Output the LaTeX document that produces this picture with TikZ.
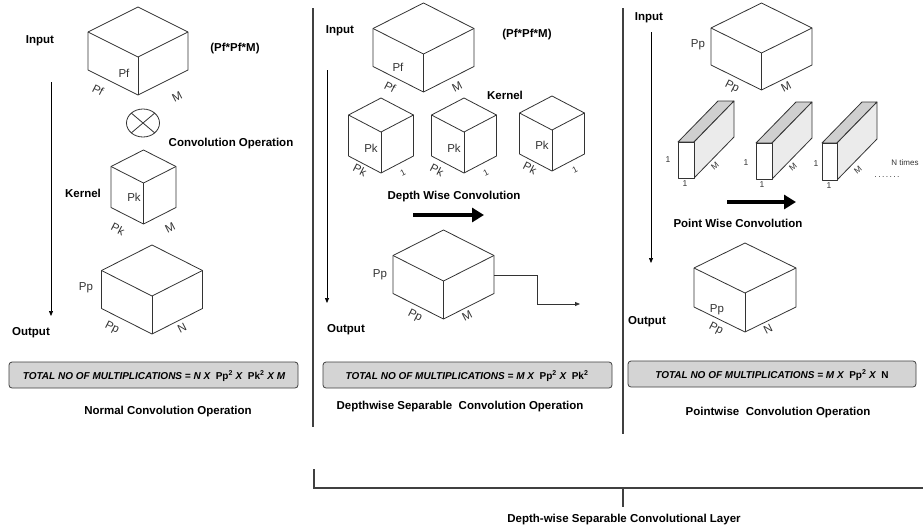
\documentclass[tikz,border=0pt]{standalone}
\usepackage{fontspec}
\setmainfont{Liberation Sans}
\usetikzlibrary{arrows.meta}
\definecolor{linegray}{HTML}{333333}
\definecolor{sepgray}{HTML}{404040}
\definecolor{boxfill}{HTML}{D4D4D4}
\definecolor{slabtopc}{HTML}{CFCFCF}
\definecolor{slabsidec}{HTML}{EBEBEB}
\newcommand\isocube[5]{%
  \draw[cubeline] (#1,#2) -- ({#1-#3},{#2+#4}) -- ({#1-#3},{#2+#4+#5}) -- (#1,{#2+2*#4+#5}) -- ({#1+#3},{#2+#4+#5}) -- ({#1+#3},{#2+#4}) -- cycle;
  \draw[cubeline] ({#1-#3},{#2+#4}) -- (#1,{#2+2*#4}) -- ({#1+#3},{#2+#4});
  \draw[cubeline] (#1,{#2+2*#4}) -- (#1,{#2+2*#4+#5});
}
\newcommand\slabshape[4]{%
  \draw[cubeline,fill=slabtopc] (#1,#3) -- ({#1+40},{#3-41}) -- ({#2+40},{#3-41}) -- (#2,#3) -- cycle;
  \draw[cubeline,fill=slabsidec] (#2,#3) -- ({#2+40},{#3-41}) -- ({#2+40},{#4-41}) -- (#2,#4) -- cycle;
  \draw[cubeline,fill=white] (#1,#3) rectangle (#2,#4);
}
\begin{document}
\begin{tikzpicture}[x=1pt,y=-1pt,
  cubeline/.style={draw=linegray,line width=0.8pt,line join=round},
  blbl/.style={inner sep=0pt,font=\fontsize{11.5}{13}\selectfont\bfseries},
  lbl/.style={inner sep=0pt,text=linegray,font=\fontsize{11.5}{13}\selectfont},
  smlbl/.style={inner sep=0pt,text=linegray,font=\fontsize{8.5}{10}\selectfont},
  formtxt/.style={inner sep=0pt,font=\fontsize{10}{12}\selectfont\bfseries\itshape},
  formbox/.style={draw=sepgray,fill=boxfill,rounded corners=3pt,line width=0.8pt},
  thinarrow/.style={draw=black,line width=0.7pt,-{Triangle[length=5pt,width=4pt]}},
  fatarrow/.style={draw=black,line width=4.5pt,-{Triangle[length=12pt,width=14pt]}},
  sepline/.style={draw=sepgray,line width=1.5pt},
  elbow/.style={draw=linegray,line width=0.8pt,-{Triangle[length=5pt,width=4pt]}}
]
\useasboundingbox (0,0) rectangle (923,531);
\fill[white] (0,0) rectangle (923,531);

% ---------------- separators and bracket
\coordinate (s1a) at (313,8); \coordinate (s1b) at (313,427);
\coordinate (s2a) at (623,8); \coordinate (s2b) at (623,434);
\draw[sepline] (s1a) -- (s1b);
\draw[sepline] (s2a) -- (s2b);
\coordinate (bra) at (314,469); \coordinate (brb) at (923,488);
\coordinate (tka) at (623,488); \coordinate (tkb) at (623,507);
\draw[sepline,line width=1.3pt] (bra) |- (brb);
\draw[sepline,line width=1.3pt] (tka) -- (tkb);
\node[blbl] (layer) at (624,520) {Depth-wise Separable Convolutional Layer};

% ================= LEFT PANEL
\isocube{138}{7}{50}{25}{38}
\isocube{143.5}{150}{32.5}{16.5}{41}
\isocube{152}{245}{50.5}{25.5}{38}
\node[blbl] (lin) at (40,41) {Input};
\node[blbl] (lsz) at (235,49) {(Pf*Pf*M)};
\node[lbl] (lpf1) at (124,73) {Pf};
\node[lbl,rotate=-27] (lpf2) at (98,90) {Pf};
\node[lbl,rotate=27] (lm1) at (177,97) {M};
\draw[cubeline] (143,123) ellipse (16.5 and 14);
\draw[cubeline] ({143-11.7},{123-9.9}) -- ({143+11.7},{123+9.9});
\draw[cubeline] ({143-11.7},{123+9.9}) -- ({143+11.7},{123-9.9});
\node[blbl] (lconv) at (231,144) {Convolution Operation};
\node[blbl] (lker) at (83,193) {Kernel};
\node[lbl] (lpk1) at (134,197) {Pk};
\node[lbl,rotate=-27] (lpk2) at (118,229) {Pk};
\node[lbl,rotate=27] (lm2) at (170,228) {M};
\node[lbl] (lpp1) at (86,288) {Pp};
\node[lbl,rotate=-27] (lpp2) at (112,328) {Pp};
\node[lbl,rotate=27] (ln) at (182,328) {N};
\node[blbl] (lout) at (31,333) {Output};
\coordinate (la1) at (51,82); \coordinate (la2) at (51,316);
\draw[thinarrow] (la1) -- (la2);
\draw[formbox] (9,362) rectangle (298,388);
\node[formtxt] (lform) at (154,376) {TOTAL NO OF MULTIPLICATIONS = N X\ \ {\upshape Pp\textsuperscript{2}} X\ \ {\upshape Pk\textsuperscript{2}} X M};
\node[blbl] (lcap) at (168,412) {Normal Convolution Operation};

% ================= MIDDLE PANEL
\isocube{423.5}{3}{50.5}{25.5}{38}
\isocube{381}{98}{32.5}{17}{41}
\isocube{464}{98}{32.5}{17}{41}
\isocube{552}{96}{32.5}{17}{41}
\isocube{443.5}{230}{50.5}{25.5}{38}
\node[blbl] (min) at (340,31) {Input};
\node[blbl] (msz) at (527,35) {(Pf*Pf*M)};
\node[lbl] (mpf1) at (398,67) {Pf};
\node[lbl,rotate=-27] (mpf2) at (390,87) {Pf};
\node[lbl,rotate=27] (mm1) at (457,87) {M};
\node[blbl] (mker) at (505,95) {Kernel};
\node[lbl] (mk1a) at (371,148) {Pk};
\node[lbl,rotate=-27] (mk1b) at (360,170) {Pk};
\node[smlbl,rotate=27] (mk1c) at (403,173) {1};
\node[lbl] (mk2a) at (454,148) {Pk};
\node[lbl,rotate=-27] (mk2b) at (437,170) {Pk};
\node[smlbl,rotate=27] (mk2c) at (486,173) {1};
\node[lbl] (mk3a) at (542,145) {Pk};
\node[lbl,rotate=-27] (mk3b) at (530,168) {Pk};
\node[smlbl,rotate=27] (mk3c) at (575,170) {1};
\node[blbl] (mdw) at (454,197) {Depth Wise Convolution};
\coordinate (mf1) at (413,215); \coordinate (mf2) at (484,215);
\draw[fatarrow] (mf1) -- (mf2);
\node[lbl] (mpp1) at (380,275) {Pp};
\node[lbl,rotate=-27] (mpp2) at (415,316) {Pp};
\node[lbl,rotate=27] (mm2) at (467,316) {M};
\node[blbl] (mout) at (346,330) {Output};
\coordinate (ma1) at (327,70); \coordinate (ma2) at (327,303);
\draw[thinarrow] (ma1) -- (ma2);
\coordinate (mo) at (494,275); \coordinate (moe) at (580,304);
\draw[elbow] (mo) -- ++(43,0) |- (moe);
\draw[formbox] (323,362) rectangle (612,388);
\node[formtxt] (mform) at (467,376) {TOTAL NO OF MULTIPLICATIONS = M X\ \ {\upshape Pp\textsuperscript{2}} X\ \ {\upshape Pk\textsuperscript{2}}};
\node[blbl] (mcap) at (460,407) {Depthwise Separable\ \ Convolution Operation};

% ================= RIGHT PANEL
\isocube{761.5}{3}{50.5}{25}{37}
\isocube{745}{243}{51}{25}{39}
\node[blbl] (rin) at (649,18) {Input};
\node[lbl] (rpp1) at (698,45) {Pp};
\node[lbl,rotate=-27] (rpp2) at (732,87) {Pp};
\node[lbl,rotate=27] (rm1) at (786,87) {M};
\slabshape{678}{694}{142}{178}
\slabshape{756}{772}{143}{179}
\slabshape{822}{837}{143}{180}
\node[smlbl] (r1a) at (668,160) {1};
\node[smlbl] (r1b) at (685,184) {1};
\node[smlbl,rotate=40] (r1c) at (715,166) {M};
\node[smlbl] (r2a) at (746,163) {1};
\node[smlbl] (r2b) at (762,185) {1};
\node[smlbl,rotate=40] (r2c) at (793,167) {M};
\node[smlbl] (r3a) at (816,164) {1};
\node[smlbl] (r3b) at (829,186) {1};
\node[smlbl,rotate=40] (r3c) at (858,170) {M};
\node[smlbl,font=\fontsize{8}{10}\selectfont] (rnt) at (905,163) {N times};
\node[smlbl] (rdots) at (887,177) {.\,.\,.\,.\,.\,.\,.};
\coordinate (rf1) at (727,202); \coordinate (rf2) at (796,202);
\draw[fatarrow] (rf1) -- (rf2);
\node[blbl] (rpw) at (738,223) {Point Wise Convolution};
\node[lbl] (rpp3) at (717,310) {Pp};
\node[lbl,rotate=-27] (rpp4) at (716,329) {Pp};
\node[lbl,rotate=27] (rn) at (768,329) {N};
\node[blbl] (rout) at (647,322) {Output};
\coordinate (ra1) at (651,32); \coordinate (ra2) at (651,263);
\draw[thinarrow] (ra1) -- (ra2);
\draw[formbox] (628,361) rectangle (916,387);
\node[formtxt] (rform) at (772,375) {TOTAL NO OF MULTIPLICATIONS = M X\ \ {\upshape Pp\textsuperscript{2}} X\ \ {\upshape N}};
\node[blbl] (rcap) at (778,413) {Pointwise\ \ Convolution Operation};
\end{tikzpicture}
\end{document}
